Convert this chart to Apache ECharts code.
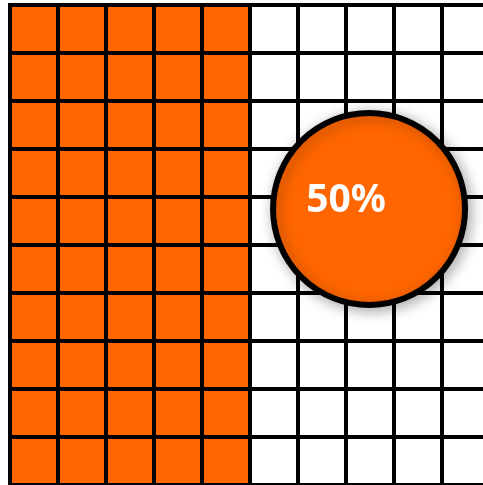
<!DOCTYPE html>
<html>
<head>
<meta charset="utf-8">
<script src="https://cdn.jsdelivr.net/npm/echarts@6/dist/echarts.min.js"></script>
<style>
html,body{margin:0;padding:0;background:#fff;}
#main{width:483px;height:485px;}
</style>
</head>
<body>
<div id="main"></div>
<script>
// Waffle chart data
var percentValue = 50;            // share of cells filled
var percentLabel = '50%';
var columns = [0,1,2,3,4,5,6,7,8,9];
var rows = [0,1,2,3,4,5,6,7,8,9];
var bubblePosition = [7.48, 4.25]; // in cell units (column, row)

var cells = [];
columns.forEach(function (c) {
  rows.forEach(function (r) {
    var idx = c * rows.length + r;
    cells.push([c, r, idx < percentValue ? 1 : 0]);
  });
});

var chart = echarts.init(document.getElementById('main'), null, {renderer: 'canvas'});
chart.setOption({
  animation: false,
  backgroundColor: '#ffffff',
  grid: {left: 10, top: 5, width: 480, height: 480, outerBoundsMode: 'none', containLabel: false},
  xAxis: {type: 'value', min: 0, max: 10, show: false},
  yAxis: {type: 'value', min: 0, max: 10, inverse: true, show: false},
  series: [
    {
      type: 'custom',
      clip: false,
      data: cells,
      renderItem: function (params, api) {
        var p0 = api.coord([api.value(0), api.value(1)]);
        var p1 = api.coord([api.value(0) + 1, api.value(1) + 1]);
        return {
          type: 'rect',
          shape: {x: p0[0], y: p0[1], width: p1[0] - p0[0], height: p1[1] - p0[1]},
          style: {
            fill: api.value(2) ? '#FF6600' : '#ffffff',
            stroke: '#000000',
            lineWidth: 4
          }
        };
      },
      z: 1
    },
    {
      type: 'scatter',
      data: [bubblePosition],
      symbol: 'circle',
      symbolSize: 192,
      itemStyle: {
        color: '#FF6600',
        borderColor: '#000000',
        borderWidth: 6,
        shadowBlur: 14,
        shadowColor: 'rgba(0,0,0,0.3)',
        shadowOffsetX: 3,
        shadowOffsetY: 3,
        opacity: 1
      },
      label: {
        show: true,
        position: 'inside',
        formatter: percentLabel,
        offset: [-23, -8],
        color: '#ffffff',
        fontSize: 39,
        fontWeight: 'bold',
        fontFamily: 'Noto Sans'
      },
      z: 5
    }
  ]
});
</script>
</body>
</html>
